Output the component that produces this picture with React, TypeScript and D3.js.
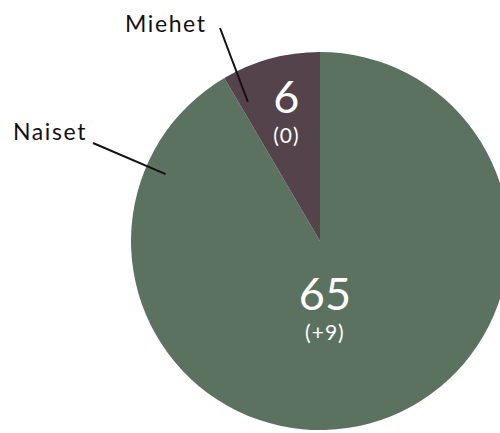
import React, { useEffect, useRef } from "react";
import * as d3 from "d3";

// data
const groups = ["Naiset", "Miehet"];
const counts = [65, 6];
const changes = ["(+9)", "(0)"];
const colors = ["#5c7261", "#54434b"];

const W = 500;
const H = 433;

export default function App() {
  const ref = useRef<SVGSVGElement>(null);

  useEffect(() => {
    const svg = d3.select(ref.current);
    svg.selectAll("*").remove();

    const cx = 320;
    const cy = 241;
    const r = 189;
    const font = "Lato, 'Open Sans', sans-serif";

    const rows = groups.map((g, i) => ({ name: g, value: counts[i], change: changes[i], color: colors[i] }));

    const pie = d3.pie<any>().sort(null).value((d) => d.value);
    const arcs = pie(rows);
    const arc = d3.arc<any>().innerRadius(0).outerRadius(r);

    const g = svg.append("g").attr("transform", `translate(${cx},${cy})`);

    g.selectAll("path.slice")
      .data(arcs)
      .join("path")
      .attr("class", "slice")
      .attr("d", arc)
      .attr("fill", (d) => d.data.color);

    // value labels: radius fraction per slice (big slice near centre)
    const valueR = [0.3, 0.78];
    const valueShift = [-10, 5];
    arcs.forEach((a, i) => {
      const mid = (a.startAngle + a.endAngle) / 2;
      const x = Math.sin(mid) * r * valueR[i] + valueShift[i];
      const y = -Math.cos(mid) * r * valueR[i];
      g.append("text")
        .attr("x", x)
        .attr("y", y + 14)
        .attr("text-anchor", "middle")
        .attr("fill", "#fff")
        .style("font-family", font)
        .style("font-size", "45px")
        .style("font-weight", 400)
        .text(a.data.value);
      g.append("text")
        .attr("x", x)
        .attr("y", y + 44)
        .attr("text-anchor", "middle")
        .attr("fill", "#fff")
        .style("font-family", font)
        .style("font-size", "21px")
        .style("letter-spacing", "1px")
        .style("font-weight", 400)
        .text(a.data.change);
    });

    // name labels with leader lines (pointer angle in deg, radius fraction, text pos offset)
    const pointAng = [-66.6, -27.4];
    const pointR = [0.89, 0.83];
    const lineEnd = [
      [-227, -98],
      [-100, -213],
    ];
    const textPos = [
      [-307, -101],
      [-195, -209],
    ];
    arcs.forEach((a, i) => {
      const ang = (pointAng[i] * Math.PI) / 180;
      const px = Math.sin(ang) * r * pointR[i];
      const py = -Math.cos(ang) * r * pointR[i];
      g.append("line")
        .attr("x1", px)
        .attr("y1", py)
        .attr("x2", lineEnd[i][0])
        .attr("y2", lineEnd[i][1])
        .attr("stroke", "#111")
        .attr("stroke-width", 2);
      g.append("text")
        .attr("x", textPos[i][0])
        .attr("y", textPos[i][1])
        .attr("fill", "#111")
        .style("font-family", font)
        .style("font-size", "23px")
        .style("letter-spacing", "1.6px")
        .text(a.data.name);
    });
  }, []);

  return (
    <svg
      ref={ref}
      width={W}
      height={H}
      style={{ position: "absolute", left: 0, top: 0, background: "#fff" }}
    />
  );
}
